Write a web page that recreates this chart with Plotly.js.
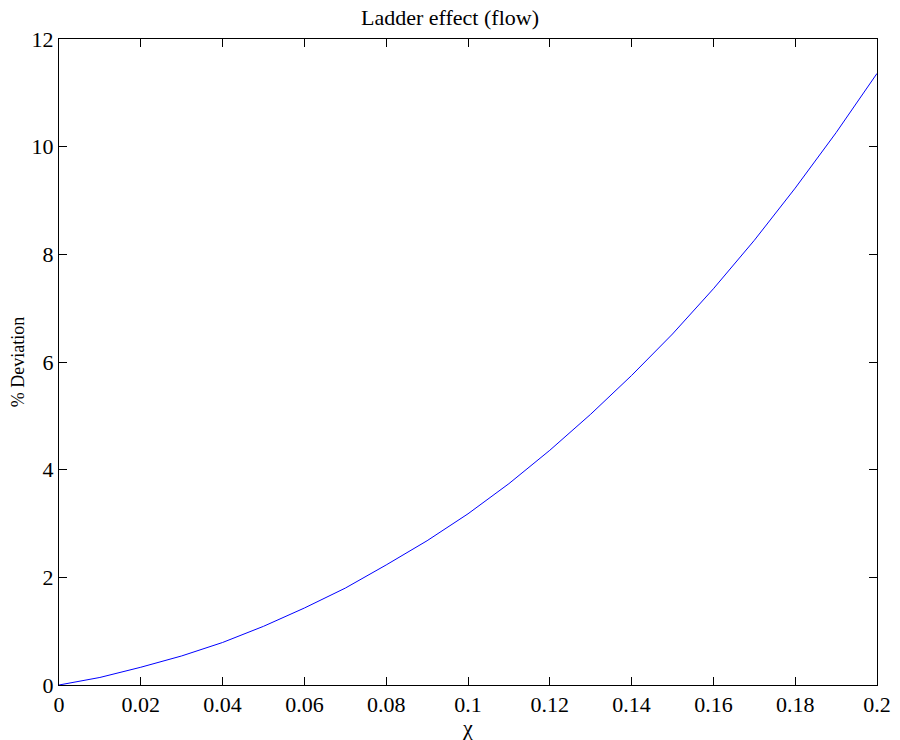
<!DOCTYPE html>
<html>
<head>
<meta charset="utf-8">
<script src="https://cdn.plot.ly/plotly-3.0.1.min.js"></script>
<style>html,body{margin:0;padding:0;background:#fff;}#chart{width:900px;height:740px;}</style>
</head>
<body>
<div id="chart"></div>
<script>
const chi = [0, 0.01, 0.02, 0.03, 0.04, 0.05, 0.06, 0.07, 0.08, 0.09, 0.10, 0.11, 0.12, 0.13, 0.14, 0.15, 0.16, 0.17, 0.18, 0.19, 0.20];
const deviation = [0, 0.14, 0.33, 0.54, 0.79, 1.09, 1.43, 1.80, 2.23, 2.68, 3.18, 3.74, 4.36, 5.03, 5.75, 6.52, 7.36, 8.26, 9.23, 10.26, 11.36];
const xTicks = [0, 0.02, 0.04, 0.06, 0.08, 0.1, 0.12, 0.14, 0.16, 0.18, 0.2];
const xTickLabels = ['0', '0.02', '0.04', '0.06', '0.08', '0.1', '0.12', '0.14', '0.16', '0.18', '0.2'];
const yTicks = [0, 2, 4, 6, 8, 10, 12];

const font = 'Liberation Serif, Times New Roman, serif';
const trace = {
  x: chi, y: deviation, type: 'scatter', mode: 'lines',
  line: {color: '#0000ff', width: 1}, hoverinfo: 'skip'
};
const layout = {
  width: 900, height: 740,
  margin: {l: 59, r: 23, t: 39, b: 55},
  paper_bgcolor: '#fff', plot_bgcolor: '#fff',
  showlegend: false,
  font: {family: font, color: '#000', size: 22},
  title: {text: 'Ladder effect (flow)', font: {family: font, size: 22, color: '#000'}, x: 0.5, xanchor: 'center', y: 0.976, yanchor: 'middle'},
  xaxis: {
    range: [0, 0.2], tickvals: xTicks, ticktext: xTickLabels,
    ticks: 'inside', ticklen: 8, tickwidth: 1, tickcolor: '#000',
    showline: true, linecolor: '#000', linewidth: 1, mirror: 'ticks',
    showgrid: false, zeroline: false,
    tickfont: {family: font, size: 22, color: '#000'},
    title: {text: 'χ', font: {family: font, size: 22, color: '#000'}, standoff: 4}
  },
  yaxis: {
    range: [0, 12], tickvals: yTicks,
    ticks: 'inside', ticklen: 8, tickwidth: 1, tickcolor: '#000',
    showline: true, linecolor: '#000', linewidth: 1, mirror: 'ticks',
    showgrid: false, zeroline: false,
    tickfont: {family: font, size: 22, color: '#000'},
    title: {text: '% Deviation', font: {family: font, size: 18, color: '#000'}, standoff: 2}
  }
};
Plotly.newPlot('chart', [trace], layout, {displayModeBar: false, staticPlot: true});
</script>
</body>
</html>
